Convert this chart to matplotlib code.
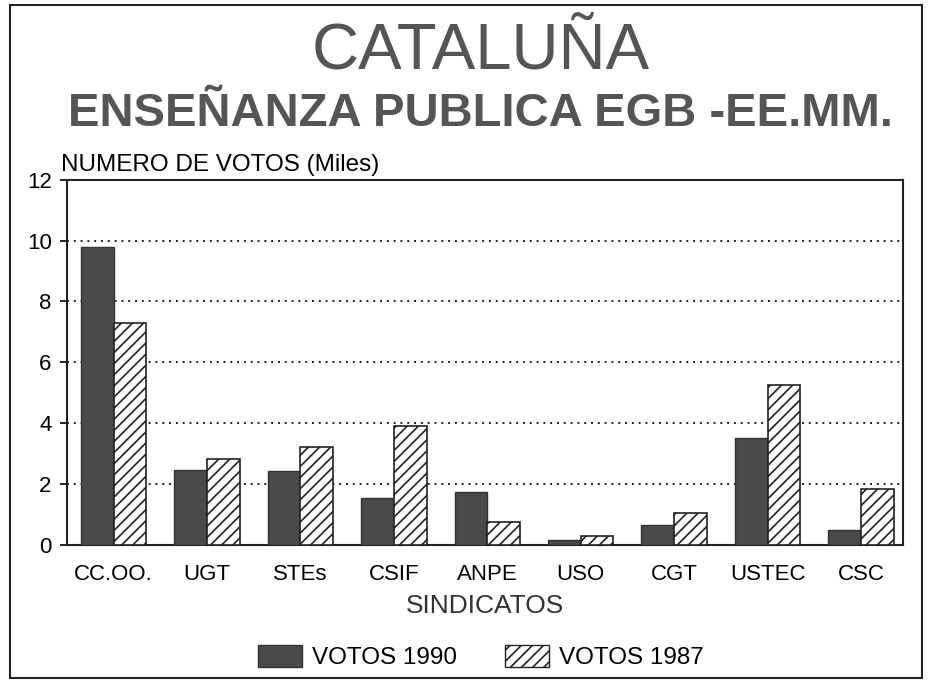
import matplotlib
matplotlib.use("Agg")
import matplotlib.pyplot as plt
from matplotlib.patches import Rectangle, Patch
import numpy as np

categories = ["CC.OO.", "UGT", "STEs", "CSIF", "ANPE", "USO", "CGT", "USTEC", "CSC"]
votos_1990 = [9.8, 2.47, 2.43, 1.55, 1.75, 0.15, 0.65, 3.5, 0.5]
votos_1987 = [7.3, 2.83, 3.2, 3.9, 0.75, 0.3, 1.05, 5.25, 1.85]
yticks = [0, 2, 4, 6, 8, 10, 12]

FONT = ["Liberation Sans", "DejaVu Sans"]
plt.rcParams['font.family'] = FONT
plt.rcParams['hatch.linewidth'] = 1.2

fig = plt.figure(figsize=(9.3, 6.81), dpi=100)
ax = fig.add_axes([0.072, 0.2, 0.899, 0.536])

x = np.arange(len(categories))
w = 0.35
ax.bar(x - w / 2, votos_1990, w, color="#4a4a4a", edgecolor="#333333", linewidth=1, zorder=3,
       label="VOTOS 1990")
ax.bar(x + w / 2, votos_1987, w, color="white", edgecolor="#222222", hatch="///", linewidth=1.2,
       zorder=3, label="VOTOS 1987")

ax.set_xlim(-0.5, 8.45)
ax.set_ylim(0, 12)
ax.set_yticks(yticks)
ax.set_yticklabels([str(t) for t in yticks], fontsize=16)
ax.set_xticks(x)
ax.set_xticklabels(categories, fontsize=16)
ax.tick_params(axis="x", length=0, pad=14)
ax.tick_params(axis="y", length=5, width=1.2, direction="out", pad=6)
for t in yticks[1:-1]:
    ax.axhline(t, color="#222222", linestyle=(0, (1, 2.5)), linewidth=1.4, zorder=1)
for s in ax.spines.values():
    s.set_linewidth(1.5)
    s.set_color("#222222")

ax.set_xlabel("SINDICATOS", fontsize=19, labelpad=6, color="#333333")
fig.text(0.066, 0.741, "NUMERO DE VOTOS (Miles)", fontsize=17.5, ha="left", va="bottom")

fig.text(0.517, 0.925, "CATALUÑA", fontsize=47, ha="center", va="center", color="#555555")
fig.text(0.517, 0.832, "ENSEÑANZA PUBLICA EGB -EE.MM.", fontsize=34, ha="center", va="center",
         color="#555555", fontweight="bold")

handles = [Patch(facecolor="#4a4a4a", edgecolor="#333333", label="VOTOS 1990"),
           Patch(facecolor="white", edgecolor="#222222", hatch="///", label="VOTOS 1987")]
fig.legend(handles=handles, loc="center", bbox_to_anchor=(0.517, 0.035), ncol=2, frameon=False,
           prop={"size": 17.5},
           handlelength=1.8, handleheight=1.0, columnspacing=2.0, handletextpad=0.4)

fig.patches.append(Rectangle((0.011, 0.004), 0.98, 0.989, transform=fig.transFigure,
                             fill=False, edgecolor="#222222", linewidth=1.5))

fig.savefig("out.png", dpi=100)
